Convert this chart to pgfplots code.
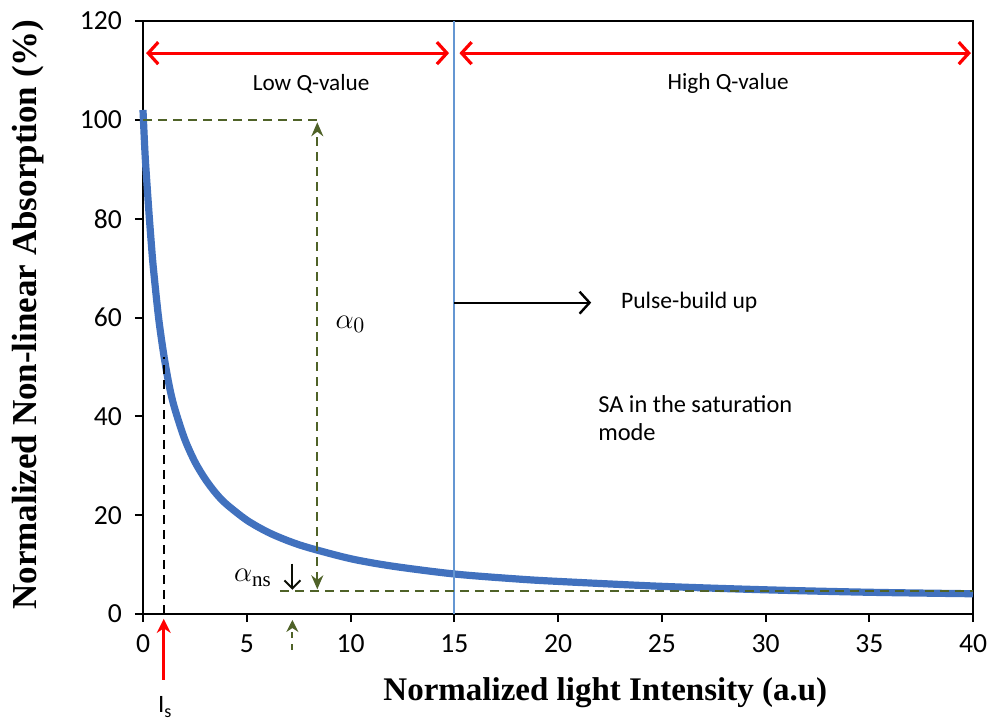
\documentclass[border=0pt]{standalone}
\usepackage{pgfplots}
\pgfplotsset{compat=1.18}
\usepackage{fontspec}
\setmainfont{Liberation Serif}
\newfontfamily\carlito{Carlito}
\usetikzlibrary{arrows.meta}
\definecolor{curveblue}{RGB}{65,113,190}
\definecolor{lineblue}{RGB}{100,150,210}
\definecolor{olive}{RGB}{79,98,40}
\definecolor{myred}{RGB}{255,0,0}
\begin{document}
\begin{tikzpicture}
\useasboundingbox (-71.5pt,-53pt) rectangle (428pt,307pt);
\begin{axis}[
  scale only axis,
  width=415pt, height=296.5pt,
  xmin=0, xmax=40, ymin=0, ymax=120,
  xtick={0,5,...,40}, ytick={0,20,...,120},
  axis line style={line width=1.2pt},
  tick style={line width=1pt, black},
  major tick length=4pt,
  tick align=outside,
  xtick pos=bottom, ytick pos=left,
  /pgf/number format/assume math mode=true,
  tick label style={font=\carlito\fontsize{13.8}{15}\selectfont},
  xticklabel style={yshift=-3pt},
  yticklabel style={xshift=-3pt},
  xlabel={Normalized light Intensity (a.u)},
  ylabel={Normalized Non-linear Absorption (\%)},
  xlabel style={font=\bfseries\fontsize{16.5}{18}\selectfont, at={(axis description cs:0.557,-0.132)}, anchor=center},
  ylabel style={font=\bfseries\fontsize{17.5}{19}\selectfont, at={(axis description cs:-0.139,0.505)}, anchor=center},
  clip=false,
]
% saturable absorption curve
\addplot[curveblue, line width=3.6pt, smooth] coordinates {
(0,102) (0.1,93) (0.2,86.5) (0.3,80.5) (0.4,75) (0.5,70) (0.75,60) (1,52.5)
(1.25,46.5) (1.5,42) (2,35.5) (2.5,30.8) (3,27.3) (3.5,24.5) (4,22.3) (5,19)
(6,16.6) (7,14.8) (8,13.4) (10,11.2) (12,9.7) (15,8.1) (18,7.1) (20,6.6)
(25,5.6) (30,4.9) (35,4.4) (40,4.1)};
% boundary line
\addplot[lineblue, line width=1pt] coordinates {(15,0) (15,120)};
% red range arrows
\draw[myred, line width=1.4pt, {Straight Barb[length=5pt,width=11pt,line width=1.6pt]}-{Straight Barb[length=5pt,width=11pt,line width=1.6pt]}]
  (axis cs:0.15,113.5) -- (axis cs:14.75,113.5);
\draw[myred, line width=1.4pt, {Straight Barb[length=5pt,width=11pt,line width=1.6pt]}-{Straight Barb[length=5pt,width=11pt,line width=1.6pt]}]
  (axis cs:15.25,113.5) -- (axis cs:39.9,113.5);
\node[font=\carlito\fontsize{11.6}{13}\selectfont] at (axis cs:8.1,107.3) {Low Q-value};
\node[font=\carlito\fontsize{11.6}{13}\selectfont] at (axis cs:28.2,107.3) {High Q-value};
% alpha_0 construction
\draw[olive, line width=1pt, dash pattern=on 4.5pt off 3pt] (axis cs:0,100) -- (axis cs:8.4,100);
\draw[olive, line width=1pt, dash pattern=on 4.5pt off 3pt, {Stealth[length=7pt,width=6pt]}-{Stealth[length=7pt,width=6pt]}]
  (axis cs:8.4,5.0) -- (axis cs:8.4,99.5);
\draw[olive, line width=1pt, dash pattern=on 4.5pt off 3pt] (axis cs:6.6,4.6) -- (axis cs:40,4.6);
\node[font=\fontsize{15}{17}\selectfont] at (axis cs:10.0,58.6) {$\alpha_0$};
% alpha_ns
\draw[black!85!olive, line width=1pt, -{Straight Barb[length=4pt,width=8pt,line width=1pt]}] (axis cs:7.2,10.2) -- (axis cs:7.2,4.9);
\draw[olive, line width=1pt, dash pattern=on 3pt off 3pt, -{Stealth[length=6pt,width=6pt]}] (axis cs:7.2,-7.3) -- (axis cs:7.2,-1.2);
\node[font=\fontsize{15}{17}\selectfont] at (axis cs:5.3,7.3) {$\alpha_{\mathrm{ns}}$};
% saturation intensity
\draw[black, line width=1.1pt, dash pattern=on 4.5pt off 3pt] (axis cs:1.0,0) -- (axis cs:1.0,52);
\draw[myred, line width=1.4pt, -{Stealth[length=7pt,width=7pt]}] (axis cs:1.0,-13.3) -- (axis cs:1.0,-1.0);
\node[font=\carlito\fontsize{12.5}{14}\selectfont, anchor=north] at (axis cs:1.05,-15.2) {I\raisebox{-0.45ex}{\fontsize{9}{10}\selectfont s}};
% pulse build up
\draw[black, line width=1pt, -{Straight Barb[length=5pt,width=11pt,line width=1.2pt]}] (axis cs:15,63) -- (axis cs:21.6,63);
\node[font=\carlito\fontsize{11.8}{13}\selectfont, anchor=west] at (axis cs:22.7,63) {Pulse-build up};
\node[font=\carlito\fontsize{12.2}{14}\selectfont, anchor=west, align=left] at (axis cs:21.6,39.6) {SA in the saturation\\mode};
\end{axis}
\end{tikzpicture}
\end{document}
